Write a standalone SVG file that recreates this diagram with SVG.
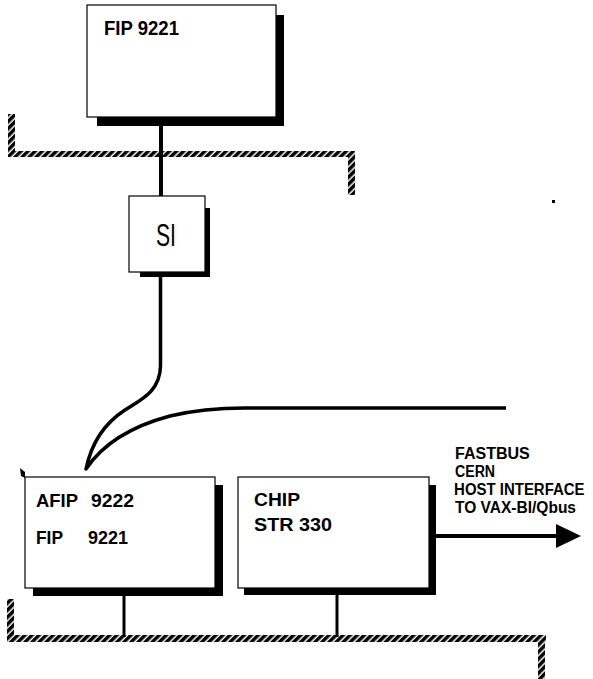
<svg xmlns="http://www.w3.org/2000/svg" width="593" height="679" viewBox="0 0 593 679">
<style>
.box{fill:#fff;stroke:#000;stroke-width:1.2}
.sh{fill:#000}
.t{font-family:"Liberation Sans",Arial,sans-serif;font-weight:bold;fill:#000}
.wire{fill:none;stroke:#000;stroke-linecap:butt}
.bus{fill:url(#rope)}
</style>
<defs>
<pattern id="rope" width="5" height="5" patternUnits="userSpaceOnUse" patternTransform="rotate(45)">
<rect x="0" y="0" width="5" height="5" fill="#fff"/>
<rect x="0" y="0" width="3.5" height="5" fill="#000"/>
</pattern>
<marker id="ah" viewBox="0 0 25 24" refX="0" refY="12" markerWidth="25" markerHeight="24" markerUnits="userSpaceOnUse" orient="auto">
<polygon points="0,0 25,12 0,24" fill="#000"/>
</marker>
</defs>

<g id="bus-top">
<rect class="bus" x="8" y="114" width="7" height="43"/>
<rect class="bus" x="8" y="151" width="347" height="6"/>
<rect class="bus" x="348" y="151" width="7" height="44"/>
</g>
<g id="bus-bottom">
<rect class="bus" x="7" y="599" width="7" height="43"/>
<rect class="bus" x="7" y="635" width="539" height="7"/>
<rect class="bus" x="538" y="635" width="7" height="44"/>
</g>

<g id="connectors">
<line class="wire" x1="161" y1="126" x2="161" y2="196" stroke-width="4"/>
<path class="wire" stroke-width="3.5" stroke-linejoin="round" d="M160.5,277 V366 C160,392 140,400 125,410 C108,421 92,440 86,469 C100,448 125,428 170,416 C195,410 215,408 245,408 H506"/>
<line class="wire" x1="124" y1="596" x2="124" y2="637" stroke-width="3"/>
<line class="wire" x1="337" y1="595" x2="337" y2="637" stroke-width="3"/>
<line class="wire" x1="436" y1="536" x2="556" y2="536" stroke-width="4" marker-end="url(#ah)"/>
</g>

<g id="fip-top">
<rect class="sh" x="276" y="15" width="8" height="111"/>
<rect class="sh" x="97" y="117" width="187" height="9"/>
<rect class="box" x="87" y="5" width="189" height="112"/>
<text class="t" x="104" y="35" font-size="20" textLength="75" lengthAdjust="spacingAndGlyphs">FIP 9221</text>
</g>

<g id="si">
<rect class="sh" x="205" y="208" width="5" height="69"/>
<rect class="sh" x="140" y="272" width="70" height="5"/>
<rect class="box" x="129" y="196" width="76" height="76"/>
<text x="156" y="246" font-family="'Liberation Sans',Arial,sans-serif" font-size="32" textLength="20" lengthAdjust="spacingAndGlyphs" fill="#000">SI</text>
</g>

<g id="afip">
<rect class="sh" x="215" y="485" width="8" height="111"/>
<rect class="sh" x="33" y="588" width="190" height="8"/>
<rect class="box" x="25" y="477" width="190" height="111"/>
<polygon points="20,468 25,472 25,478 21,476" fill="#000"/>
<text class="t" x="36" y="507" font-size="19" textLength="42" lengthAdjust="spacingAndGlyphs">AFIP</text>
<text class="t" x="91" y="507" font-size="19" textLength="43" lengthAdjust="spacingAndGlyphs">9222</text>
<text class="t" x="36" y="544" font-size="19" textLength="27" lengthAdjust="spacingAndGlyphs">FIP</text>
<text class="t" x="88" y="544" font-size="19" textLength="40" lengthAdjust="spacingAndGlyphs">9221</text>
</g>

<g id="chip">
<rect class="sh" x="429" y="485" width="7" height="110"/>
<rect class="sh" x="244" y="588" width="192" height="7"/>
<rect class="box" x="238" y="477" width="191" height="111"/>
<text class="t" x="254" y="506" font-size="19" textLength="46" lengthAdjust="spacingAndGlyphs">CHIP</text>
<text class="t" x="254" y="531" font-size="19" textLength="78" lengthAdjust="spacingAndGlyphs">STR 330</text>
</g>

<g id="host-label" transform="translate(455,0) scale(0.88,1)">
<text class="t" x="0" y="459" font-size="17" textLength="85" lengthAdjust="spacingAndGlyphs">FASTBUS</text>
<text class="t" x="0" y="477" font-size="17" textLength="45.5" lengthAdjust="spacingAndGlyphs">CERN</text>
<text class="t" x="-1" y="495" font-size="17">HOST INTERFACE</text>
<text class="t" x="0" y="513" font-size="17" textLength="137.5" lengthAdjust="spacingAndGlyphs">TO VAX-BI/Qbus</text>
</g>

<rect x="552" y="200" width="3" height="3" fill="#000"/>
</svg>
